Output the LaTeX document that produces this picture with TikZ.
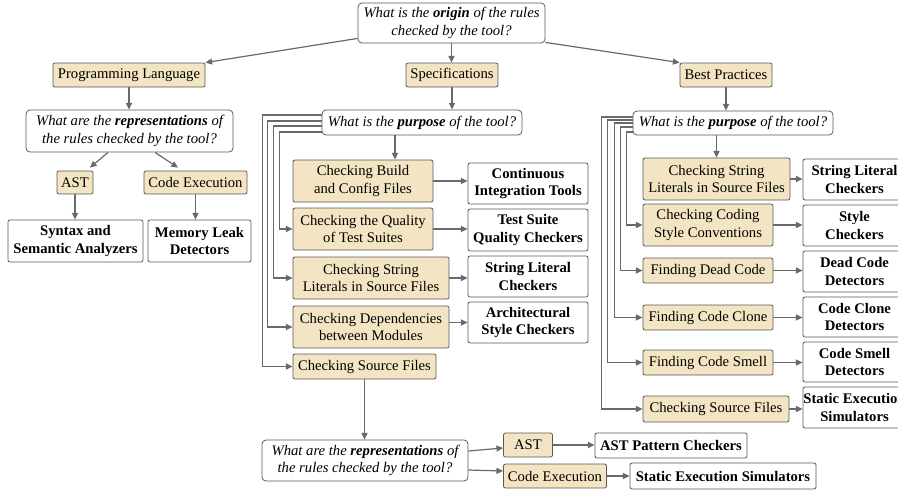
\documentclass[tikz,border=0pt]{standalone}
\usepackage{fontspec}
\setmainfont{Liberation Serif}
\usetikzlibrary{calc,arrows.meta}
\definecolor{yfill}{RGB}{243,229,195}
\definecolor{bcol}{RGB}{90,90,90}
\definecolor{acol}{RGB}{105,105,105}
\begin{document}
\begin{tikzpicture}[x=0.75pt,y=-0.75pt,
  base/.style={draw=bcol, line width=0.6pt, rounded corners=1.5pt, inner sep=0pt, align=center, font=\fontsize{11}{13}\selectfont},
  sz/.style 2 args={minimum width={#1*0.75pt}, minimum height={#2*0.75pt}},
  cat/.style={base, fill=yfill},
  ans/.style={base, fill=white, font=\fontsize{11}{13}\selectfont\bfseries},
  qst/.style={base, fill=white, rounded corners=3pt, font=\fontsize{11}{13}\selectfont\itshape},
  arr/.style={draw=acol, line width=0.9pt, -{Triangle[length=5pt,width=4.5pt]}},
]
\useasboundingbox (0,0) rectangle (898,493);
\clip (0,0) rectangle (898,493);
\fill[white] (0,0) rectangle (898,493);

% top
\node[qst, sz={187}{40}] (tq) at (451.5,23) {What is the \textbf{origin} of the rules\\checked by the tool?};
\node[cat, sz={152}{24}] (pl) at (129,75) {Programming Language};
\node[cat, sz={92}{24}] (sp) at (452,75) {Specifications};
\node[cat, sz={92}{24}] (bp) at (726,75) {Best Practices};

% left branch
\node[qst, sz={207}{42}] (lq) at (129.5,131) {What are the \textbf{representations} of\\the rules checked by the tool?};
\node[cat, sz={36}{23}] (last) at (75,182.5) {AST};
\node[cat, sz={103}{23}] (lce) at (195.5,182.5) {Code Execution};
\node[ans, sz={135}{42}] (lsyn) at (75.5,241) {Syntax and\\Semantic Analyzers};
\node[ans, sz={103}{42}] (lmem) at (199.5,241) {Memory Leak\\Detectors};

% middle branch
\node[qst, sz={200}{25}] (mq) at (422,122.5) {What is the \textbf{purpose} of the tool?};
\node[cat, sz={140}{42}] (m1) at (363,181) {Checking Build\\and Config Files};
\node[cat, sz={140}{42}] (m2) at (363,229) {Checking the Quality\\of Test Suites};
\node[cat, sz={156}{42}] (m3) at (371,278) {Checking String\\Literals in Source Files};
\node[cat, sz={156}{42}] (m4) at (371,327) {Checking Dependencies\\between Modules};
\node[cat, sz={143}{25}] (m5) at (364.5,366.5) {Checking Source Files};
\node[ans, sz={120}{41}] (w1) at (528,183.5) {Continuous\\Integration Tools};
\node[ans, sz={120}{42}] (w2) at (528,230) {Test Suite\\Quality Checkers};
\node[ans, sz={120}{41}] (w3) at (528,276.5) {String Literal\\Checkers};
\node[ans, sz={120}{41}] (w4) at (528,322.5) {Architectural\\Style Checkers};

% right branch
\node[qst, sz={200}{24}] (rq) at (733,123) {What is the \textbf{purpose} of the tool?};
\node[cat, sz={147}{42}] (r1) at (716.5,179) {Checking String\\Literals in Source Files};
\node[cat, sz={130}{42}] (r2) at (708,225) {Checking Coding\\Style Conventions};
\node[cat, sz={130}{25}] (r3) at (708,270.5) {Finding Dead Code};
\node[cat, sz={130}{25}] (r4) at (708,317.5) {Finding Code Clone};
\node[cat, sz={130}{25}] (r5) at (708,362.5) {Finding Code Smell};
\node[cat, sz={146}{26}] (r6) at (716,409) {Checking Source Files};
\node[ans, sz={103}{41}] (rw1) at (854.5,179.5) {String Literal\\Checkers};
\node[ans, sz={103}{41}] (rw2) at (854.5,225.5) {Style\\Checkers};
\node[ans, sz={103}{41}] (rw3) at (854.5,271.5) {Dead Code\\Detectors};
\node[ans, sz={103}{40}] (rw4) at (854.5,317) {Code Clone\\Detectors};
\node[ans, sz={103}{40}] (rw5) at (854.5,362) {Code Smell\\Detectors};
\node[ans, sz={103}{41}] (rw6) at (854.5,407.5) {Static Execution\\Simulators};

% bottom branch
\node[qst, sz={206}{41}] (bq) at (365,460.5) {What are the \textbf{representations} of\\the rules checked by the tool?};
\node[cat, sz={49}{24}] (bast) at (528,445) {AST};
\node[cat, sz={103}{24}] (bce) at (555,476) {Code Execution};
\node[ans, sz={152}{25}] (bastw) at (671,445.5) {AST Pattern Checkers};
\node[ans, sz={186}{26}] (bsew) at (723,476) {Static Execution Simulators};

% connectors: top
\draw[arr] ($(tq.south west)+(0,-5)$) -- (pl.north east);
\draw[arr] (tq.south) -- (tq.south |- sp.north);
\draw[arr] ($(tq.south east)+(0,-1)$) -- (bp.north west);

% left
\draw[arr] (pl.south) -- (pl.south |- lq.north);
\draw[arr] ($(lq.south)+(-21.5,0)$) -- ($(last.north)+(15,-3)$);
\draw[arr] ($(lq.south)+(25.5,0)$) -- ($(lce.north)+(-17.5,-3)$);
\draw[arr] (last.south) -- (last.south |- lsyn.north);
\draw[arr] (lce.south) -- (lce.south |- lmem.north);

% middle
\draw[arr] (sp.south) -- (sp.south |- mq.north);
\coordinate (ma) at ($(mq.south)+(-27,0)$);
\draw[arr] (ma) -- (ma |- m1.north);
\draw[arr] ($(mq.west)+(0,-7.5)$) -- ++(-59,0) |- (m5.west);
\draw[arr] ($(mq.west)+(0,-1.5)$) -- ++(-54,0) |- (m4.west);
\draw[arr] ($(mq.west)+(0,3.5)$) -- ++(-48,0) |- (m3.west);
\draw[arr] ($(mq.west)+(0,9.5)$) -- ++(-42,0) |- (m2.west);
\draw[arr] (m1.east) -- (m1.east -| w1.west);
\draw[arr] (m2.east) -- (m2.east -| w2.west);
\draw[arr] (m3.east) -- (m3.east -| w3.west);
\draw[arr] (w4.west -| m4.east) -- (w4.west);

% right
\draw[arr] (bp.south) -- (bp.south |- rq.north);
\draw[arr] (rq.south -| r1.north) -- (r1.north);
\draw[arr] ($(rq.west)+(0,-6)$) -- ++(-31,0) |- (r6.west);
\draw[arr] ($(rq.west)+(0,-3)$) -- ++(-25,0) |- (r5.west);
\draw[arr] ($(rq.west)+(0,0)$) -- ++(-18,0) |- (r4.west);
\draw[arr] ($(rq.west)+(0,4)$) -- ++(-12,0) |- (r3.west);
\draw[arr] ($(rq.west)+(0,9)$) -- ++(-6,0) |- (r2.west);
\draw[arr] (r1.east) -- (r1.east -| rw1.west);
\draw[arr] (r2.east) -- (r2.east -| rw2.west);
\draw[arr] (r3.east) -- (r3.east -| rw3.west);
\draw[arr] (r4.east) -- (r4.east -| rw4.west);
\draw[arr] (r5.east) -- (r5.east -| rw5.west);
\draw[arr] (r6.east) -- (r6.east -| rw6.west);

% bottom
\draw[arr] ($(bq.east)+(0,-9.5)$) -- ($(bast.west)+(0,3)$);
\draw[arr] ($(bq.east)+(0,9.5)$) -- ($(bce.west)+(0,-5)$);
\draw[arr] (m5.south) -- (m5.south |- bq.north);
\draw[arr] (bast.east) -- (bast.east -| bastw.west);
\draw[arr] (bce.east) -- (bce.east -| bsew.west);
\end{tikzpicture}
\end{document}
